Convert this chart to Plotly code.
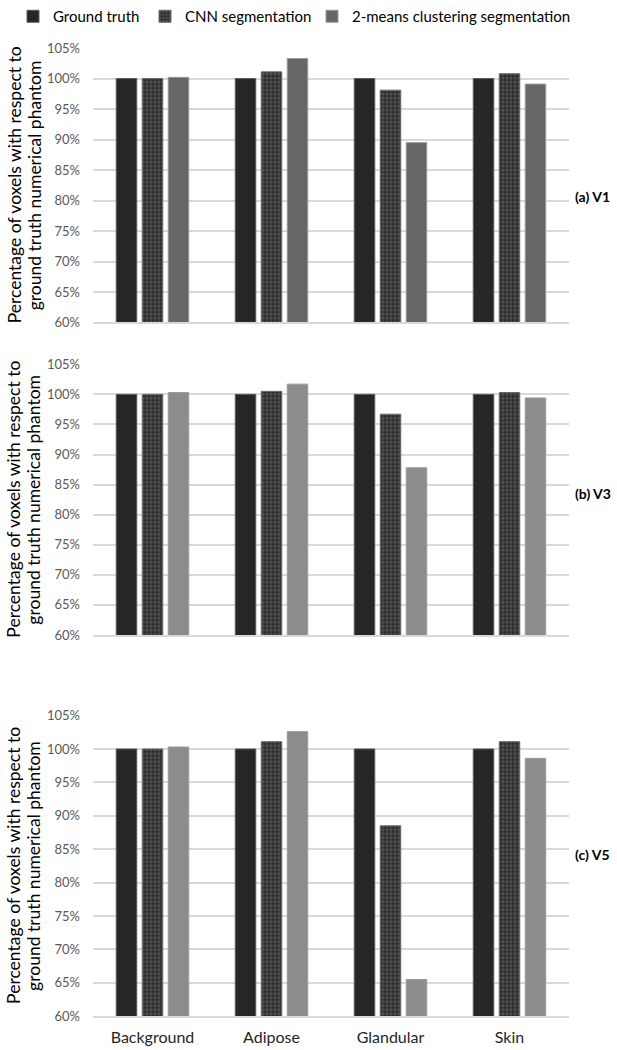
import plotly.graph_objects as go

categories = ["Background", "Adipose", "Glandular", "Skin"]
series_names = ["Ground truth", "CNN segmentation", "2-means clustering segmentation"]
panel_labels = ["(a) V1", "(b) V3", "(c) V5"]
y_title_lines = ["Percentage of voxels with respect to", "ground truth numerical phantom"]
tick_vals = [60, 65, 70, 75, 80, 85, 90, 95, 100, 105]
tick_text = [f"{v}%" for v in tick_vals]

ground_truth_v1 = [100.0, 100.0, 100.0, 100.0]
cnn_v1 = [100.0, 101.1, 98.1, 100.8]
kmeans_v1 = [100.2, 103.3, 89.5, 99.1]

ground_truth_v3 = [100.0, 100.0, 100.0, 100.0]
cnn_v3 = [100.0, 100.5, 96.7, 100.3]
kmeans_v3 = [100.3, 101.7, 87.8, 99.4]

ground_truth_v5 = [100.0, 100.0, 100.0, 100.0]
cnn_v5 = [100.0, 101.1, 88.5, 101.1]
kmeans_v5 = [100.3, 102.6, 65.5, 98.6]

panels = [
    (ground_truth_v1, cnn_v1, kmeans_v1, "#666666"),
    (ground_truth_v3, cnn_v3, kmeans_v3, "#8c8c8c"),
    (ground_truth_v5, cnn_v5, kmeans_v5, "#8c8c8c"),
]

W, H = 617, 1050
FONT = "Lato"
x_dom = [93 / W, 569 / W]
# panel pixel extents (top, bottom)
panel_px = [(43.3, 319.0), (361.0, 633.0), (714.0, 1016.0)]
label_y_px = [192, 491, 854]
legend_x_px = [13, 145, 312]
legend_ids = ["legend", "legend2", "legend3"]

fig = go.Figure()

for i, (gt, cnn, km, km_color) in enumerate(panels):
    ax = "" if i == 0 else str(i + 1)
    show = i == 0
    fig.add_trace(go.Bar(
        x=categories, y=gt, name=series_names[0], legendgroup="gt", showlegend=show,
        legend=legend_ids[0],
        marker=dict(color="#262626", line=dict(color="#5a5a5a", width=1)),
        xaxis="x" + ax, yaxis="y" + ax,
    ))
    fig.add_trace(go.Bar(
        x=categories, y=cnn, name=series_names[1], legendgroup="cnn", showlegend=show,
        legend=legend_ids[1],
        marker=dict(color="#2e2e2e", line=dict(color="#6a6a6a", width=1),
                    pattern=dict(shape=".", fgcolor="#787878", bgcolor="#2e2e2e",
                                 size=4, solidity=0.45, fillmode="overlay")),
        xaxis="x" + ax, yaxis="y" + ax,
    ))
    fig.add_trace(go.Bar(
        x=categories, y=km, name=series_names[2], legendgroup="km", showlegend=show,
        legend=legend_ids[2],
        marker=dict(color=km_color, line=dict(color="#9a9a9a", width=1)),
        xaxis="x" + ax, yaxis="y" + ax,
    ))

layout = dict(
    template="none",
    width=W, height=H, autosize=False,
    margin=dict(l=0, r=0, t=0, b=0, pad=0),
    paper_bgcolor="white", plot_bgcolor="white",
    barmode="group", bargap=0.345, bargroupgap=0.21,
    font=dict(family=FONT, color="#000000"),
    annotations=[],
)

for lid, lx in zip(legend_ids, legend_x_px):
    layout[lid] = dict(
        orientation="h", x=lx / W, xanchor="left", y=1 + 5 / H, yanchor="top",
        font=dict(family=FONT, size=15, color="#000000"),
        itemclick=False, bgcolor="rgba(0,0,0,0)", borderwidth=0,
    )

for i in range(3):
    ax = "" if i == 0 else str(i + 1)
    top, bot = panel_px[i]
    ydom = [1 - bot / H, 1 - top / H]
    layout["xaxis" + ax] = dict(
        domain=x_dom, anchor="y" + ax, showgrid=False, showline=True,
        linecolor="#d9d9d9", linewidth=1.5, ticks="", automargin=False,
        showticklabels=(i == 2),
        tickfont=dict(family=FONT, size=16, color="#262626"),
        ticklabelstandoff=6,
    )
    layout["yaxis" + ax] = dict(
        domain=ydom, anchor="x" + ax, range=[60, 105], tickmode="array",
        tickvals=tick_vals, ticktext=tick_text, automargin=False,
        showgrid=True, gridcolor="#d9d9d9", gridwidth=1.5,
        zeroline=False, showline=False, ticks="",
        tickfont=dict(family=FONT, size=13, color="#595959"),
        ticklabelstandoff=12,
    )
    cy = 1 - (top + bot) / 2 / H
    for line, xpx in zip(y_title_lines, [14, 34]):
        layout["annotations"].append(dict(
            text=line, xref="paper", yref="paper", x=xpx / W, y=cy,
            xanchor="center", yanchor="middle", textangle=-90, showarrow=False,
            font=dict(family=FONT, size=17.5, color="#000000"),
        ))
    layout["annotations"].append(dict(
        text="<b>" + panel_labels[i] + "</b>", xref="paper", yref="paper",
        x=573 / W, y=1 - label_y_px[i] / H, xanchor="left", yanchor="middle",
        showarrow=False, font=dict(family=FONT, size=14, color="#000000"),
    ))

fig.update_layout(**layout)
fig.write_html(
    "out.html",
    config={"displayModeBar": False},
    post_script="document.body.style.margin='0';document.body.style.overflow='hidden';",
)
